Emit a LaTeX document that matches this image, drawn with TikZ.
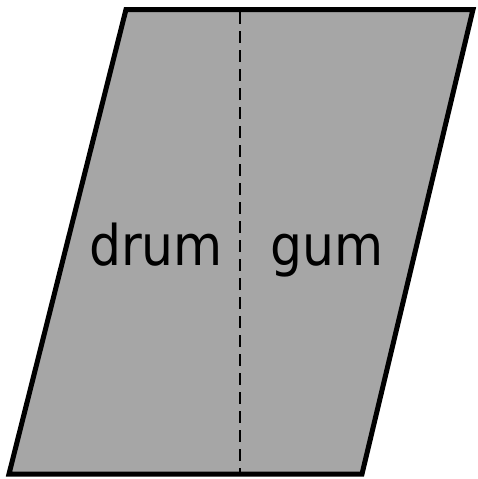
\documentclass[tikz,border=0pt]{standalone}
\usepackage{fontspec}
\setmainfont{DejaVu Sans Condensed}
\usepackage{xcolor}
\usepackage{tikz}
\definecolor{sheetgray}{HTML}{A6A6A6}

\begin{document}
\begin{tikzpicture}[
        x=1pt, y=-1pt,
        sheet/.style={draw, line width=5pt, fill=sheetgray, line join=miter},
        fold/.style={draw, line width=2.6pt, dash pattern=on 12pt off 7pt},
        word/.style={font=\fontsize{56}{66}\selectfont, anchor=base, inner sep=0pt},
      ]
      \useasboundingbox (0,0) rectangle (477,479);

      % corners of the sheet
      \coordinate (tl) at (126,9.5);
      \coordinate (tr) at (473,9.5);
      \coordinate (br) at (362,474);
      \coordinate (bl) at (9,474);
      \coordinate (foldtop) at (240,12);
      \coordinate (foldbot) at (240,472);

      \path[sheet] (tl) -- (tr) -- (br) -- (bl) -- cycle;
      \path[fold] (foldtop) -- (foldbot);

      \node[word] (drum) at (156,265) {drum};
      \node[word] (gum) at (327.5,265) {gum};

    \end{tikzpicture}
\end{document}
